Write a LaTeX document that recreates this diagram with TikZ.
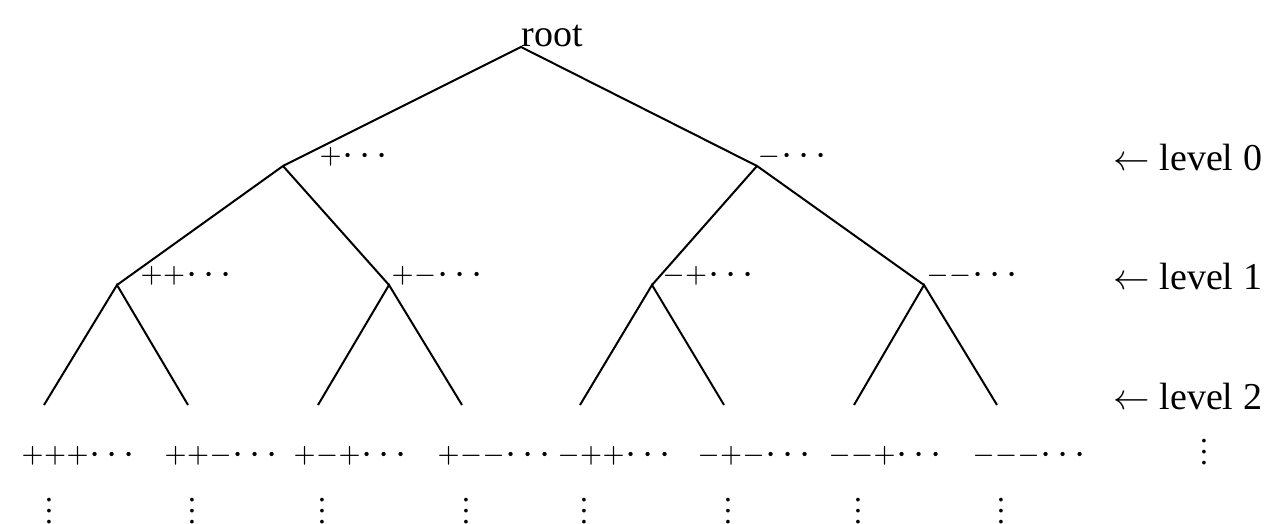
\documentclass[tikz,border=0pt]{standalone}
\usepackage{fontspec}
\setmainfont{Liberation Serif}
\newcommand\Sy[1]{\makebox[6.75pt]{$#1$}}
\newcommand\Dt{\makebox[5.1pt]{\raisebox{-0.6pt}{\fontsize{12}{14}\selectfont$\cdot$}}}
\newcommand\Lb[1]{#1\kern-0.6pt\Dt\Dt\Dt}
\begin{document}
\begin{tikzpicture}[x=0.3pt,y=-0.3pt,
  edge/.style={line width=0.6pt},
  lab/.style={inner sep=0pt,anchor=west,font=\fontsize{8.2}{10}\selectfont},
  lev/.style={inner sep=0pt,anchor=west,font=\fontsize{11.4}{13}\selectfont},
  vd/.style={inner sep=0pt,anchor=base,scale=0.825,font=\fontsize{11.4}{13}\selectfont}]
\useasboundingbox (0,0) rectangle (1268,524);
% tree points
\coordinate (r) at (521,47);
\coordinate (n0) at (283,166);
\coordinate (n1) at (757,166);
\coordinate (n00) at (117,285);
\coordinate (n01) at (389,285);
\coordinate (n10) at (652,285);
\coordinate (n11) at (924,285);
\coordinate (e1) at (44,405);
\coordinate (e2) at (188,405);
\coordinate (e3) at (318,405);
\coordinate (e4) at (462,405);
\coordinate (e5) at (580,405);
\coordinate (e6) at (724,405);
\coordinate (e7) at (854,405);
\coordinate (e8) at (997,405);
\node[inner sep=0pt,anchor=base west,font=\fontsize{11.4}{13}\selectfont] (root) at (521,47) {root};
\draw[edge] (n0) -- (r) -- (n1);
\draw[edge] (n00) -- (n0) -- (n01);
\draw[edge] (n10) -- (n1) -- (n11);
\draw[edge] (e1) -- (n00) -- (e2);
\draw[edge] (e3) -- (n01) -- (e4);
\draw[edge] (e5) -- (n10) -- (e6);
\draw[edge] (e7) -- (n11) -- (e8);
% labels at internal nodes
\node[lab] (l0) at (318.75,157) {\Lb{\Sy{+}}};
\node[lab] (l1) at (757,157) {\Lb{\Sy{-}}};
\node[lab] (l00) at (139.75,276) {\Lb{\Sy{+}\Sy{+}}};
\node[lab] (l01) at (390.75,276) {\Lb{\Sy{+}\Sy{-}}};
\node[lab] (l10) at (661.75,276) {\Lb{\Sy{-}\Sy{+}}};
\node[lab] (l11) at (925.75,276) {\Lb{\Sy{-}\Sy{-}}};
% leaf labels
\node[lab] (b1) at (20.75,456) {\Lb{\Sy{+}\Sy{+}\Sy{+}}};
\node[lab] (b2) at (163.75,456) {\Lb{\Sy{+}\Sy{+}\Sy{-}}};
\node[lab] (b3) at (292.75,456) {\Lb{\Sy{+}\Sy{-}\Sy{+}}};
\node[lab] (b4) at (436.75,456) {\Lb{\Sy{+}\Sy{-}\Sy{-}}};
\node[lab] (b5) at (556.75,456) {\Lb{\Sy{-}\Sy{+}\Sy{+}}};
\node[lab] (b6) at (696.75,456) {\Lb{\Sy{-}\Sy{+}\Sy{-}}};
\node[lab] (b7) at (827.75,456) {\Lb{\Sy{-}\Sy{-}\Sy{+}}};
\node[lab] (b8) at (971.75,456) {\Lb{\Sy{-}\Sy{-}\Sy{-}}};
% vertical dots
\node[vd] (v1) at (49,523.6) {$\vdots$};
\node[vd] (v2) at (192,523.6) {$\vdots$};
\node[vd] (v3) at (322,523.6) {$\vdots$};
\node[vd] (v4) at (466,523.6) {$\vdots$};
\node[vd] (v5) at (584,523.6) {$\vdots$};
\node[vd] (v6) at (728,523.6) {$\vdots$};
\node[vd] (v7) at (858,523.6) {$\vdots$};
\node[vd] (v8) at (1001,523.6) {$\vdots$};
\node[vd] (v9) at (1204,464.6) {$\vdots$};
% level labels
\node[lev] (lv0) at (1113,158) {$\leftarrow$ level 0};
\node[lev] (lv1) at (1113,277) {$\leftarrow$ level 1};
\node[lev] (lv2) at (1113,397) {$\leftarrow$ level 2};
\end{tikzpicture}
\end{document}
